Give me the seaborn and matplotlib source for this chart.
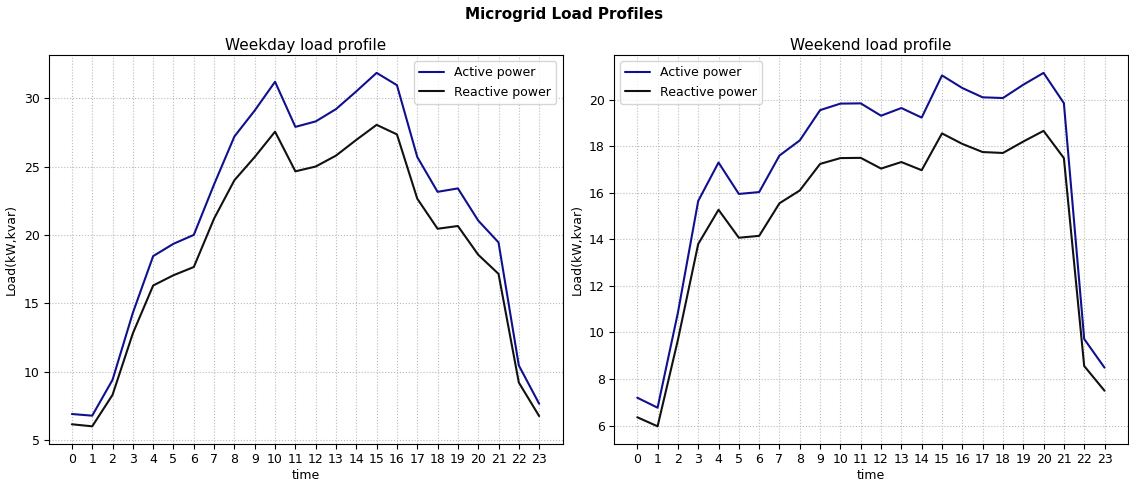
import pandas as pd
import seaborn as sns
import matplotlib.pyplot as plt

hours = list(range(24))

weekday_active = [6.9, 6.78, 9.4, 14.3, 18.45, 19.35, 20.0, 23.7, 27.2, 29.1, 31.2, 27.9, 28.3,
                  29.2, 30.5, 31.85, 30.95, 25.7, 23.15, 23.4, 21.05, 19.45, 10.45, 7.65]
weekday_reactive = [6.15, 6.0, 8.3, 12.8, 16.3, 17.05, 17.65, 21.2, 24.0, 25.7, 27.55, 24.65, 25.0,
                    25.8, 26.95, 28.05, 27.35, 22.65, 20.45, 20.65, 18.55, 17.15, 9.2, 6.75]

weekend_active = [7.2, 6.77, 10.85, 15.65, 17.3, 15.95, 16.03, 17.6, 18.25, 19.55, 19.83, 19.84, 19.31,
                  19.64, 19.23, 21.04, 20.5, 20.1, 20.07, 20.64, 21.15, 19.85, 9.72, 8.49]
weekend_reactive = [6.36, 5.97, 9.68, 13.8, 15.27, 14.07, 14.15, 15.55, 16.1, 17.24, 17.49, 17.5, 17.04,
                    17.32, 16.97, 18.55, 18.1, 17.75, 17.71, 18.2, 18.66, 17.49, 8.56, 7.5]

sns.set_style("ticks", {"axes.edgecolor": "black", "text.color": "black",
                        "xtick.color": "black", "ytick.color": "black",
                        "axes.labelcolor": "black"})

fig, axes = plt.subplots(1, 2, figsize=(11.29, 4.8), dpi=100)

profiles = [
    ("Weekday load profile", weekday_active, weekday_reactive, "upper right"),
    ("Weekend load profile", weekend_active, weekend_reactive, "upper left"),
]

for ax, (title, active, reactive, loc) in zip(axes, profiles):
    df = pd.DataFrame({"time": hours, "Active power": active, "Reactive power": reactive})
    sns.lineplot(data=df, x="time", y="Active power", ax=ax, color="#10108f",
                 linewidth=1.5, label="Active power")
    sns.lineplot(data=df, x="time", y="Reactive power", ax=ax, color="#111111",
                 linewidth=1.5, label="Reactive power")
    ax.set_title(title, fontsize=11, pad=4)
    ax.set_xlabel("time", fontsize=9, labelpad=2)
    ax.set_ylabel("Load(kW,kvar)", fontsize=9)
    ax.set_xticks(hours)
    ax.tick_params(labelsize=9, length=3.5, width=0.8, pad=3)
    for s in ax.spines.values():
        s.set_linewidth(0.8)
    ax.grid(True, linestyle=":", color="#bbbbbb", linewidth=0.8)
    ax.legend(loc=loc, fontsize=9)

fig.suptitle("Microgrid Load Profiles", fontweight="bold", fontsize=11, y=0.985)
plt.subplots_adjust(left=0.043, right=0.999, top=0.885, bottom=0.075, wspace=0.1)
plt.savefig("out.png")
plt.close()
